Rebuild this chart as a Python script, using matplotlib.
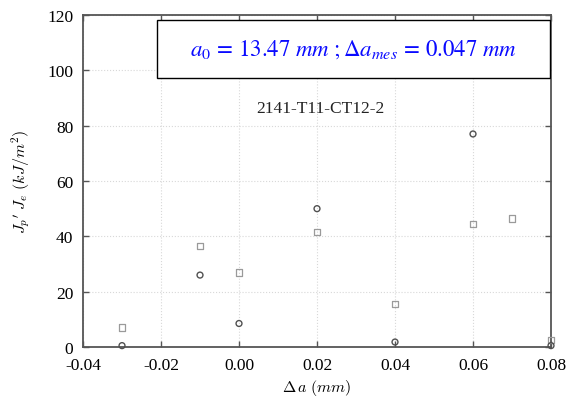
import matplotlib
matplotlib.use("Agg")
import matplotlib.pyplot as plt
from matplotlib.patches import Rectangle

# Data
circle_x = [-0.03, -0.01, 0.0, 0.02, 0.04, 0.06, 0.08]
circle_y = [0.5, 26, 8.5, 50, 1.8, 77, 0.5]
square_x = [-0.03, -0.01, 0.0, 0.02, 0.04, 0.06, 0.07, 0.08]
square_y = [7, 36.5, 27, 41.5, 15.5, 44.5, 46.5, 2.5]
xticks = [-0.04, -0.02, 0.00, 0.02, 0.04, 0.06, 0.08]
yticks = [0, 20, 40, 60, 80, 100, 120]

plt.rcParams['font.family'] = ['Liberation Serif', 'DejaVu Serif']
plt.rcParams['mathtext.fontset'] = 'cm'

fig = plt.figure(figsize=(5.67, 4.02), dpi=100)
ax = fig.add_axes([0.1464, 0.1343, 0.8254, 0.8259])

ax.scatter(square_x, square_y, marker='s', s=22, facecolors='none',
           edgecolors='#9a9a9a', linewidths=0.9, zorder=3, clip_on=False)
ax.scatter(circle_x, circle_y, marker='o', s=18, facecolors='none',
           edgecolors='#505050', linewidths=1.0, zorder=4, clip_on=False)

ax.set_xlim(-0.04, 0.08)
ax.set_ylim(0, 120)
ax.set_xticks(xticks)
ax.set_xticklabels([f"{t:.2f}" for t in xticks])
ax.set_yticks(yticks)
ax.tick_params(direction='in', top=True, right=True, labelsize=12.5,
               length=4, width=1, color='#555555')
ax.tick_params(axis='x', pad=7)
ax.tick_params(axis='y', pad=7)
ax.grid(True, linestyle=':', color='#d8d8d8', linewidth=0.8)
for sp in ax.spines.values():
    sp.set_color('#555555')
    sp.set_linewidth(1.3)

ax.set_xlabel(r'$\mathbf{\Delta}\,a\ (mm)$', fontsize=11.5, labelpad=3)
ax.set_ylabel(r'$J_{p}{}^{\prime}\ J_{e}\ (kJ/m^2)$', fontsize=11.5, labelpad=10)

# Annotation box
ax.add_patch(Rectangle((0.158, 0.81), 0.84, 0.175, transform=ax.transAxes,
                       facecolor='white', edgecolor='black', linewidth=1.0, zorder=5))
ax.text(0.578, 0.8975, r'$a_0\, =\, 13.47\ mm\ ;\Delta a_{mes}\, =\, 0.047\ mm$',
        transform=ax.transAxes, ha='center', va='center', color='#0a0aff',
        fontsize=16.5, math_fontfamily='stix', zorder=6)
ax.text(0.508, 0.72, '2141-T11-CT12-2', transform=ax.transAxes,
        ha='center', va='center', fontsize=12.5, color='#222222')

fig.savefig('out.png', dpi=100)
